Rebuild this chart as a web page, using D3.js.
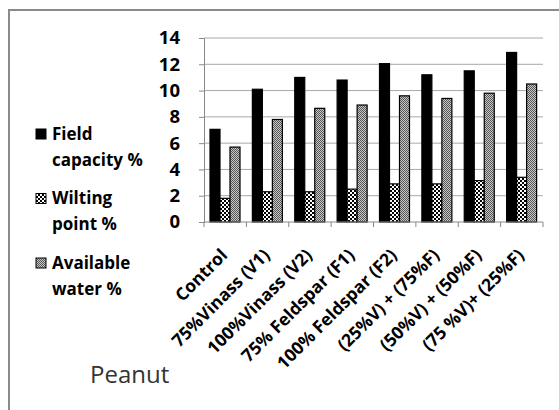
<!DOCTYPE html>
<html>
<head>
<meta charset="utf-8">
<script src="https://cdn.jsdelivr.net/npm/d3@7"></script>
<style>
  body { margin: 0; background: #fff; }
  text { font-family: "Open Sans", "Noto Sans", sans-serif; }
</style>
</head>
<body>
<div id="chart"></div>
<script>
  var categories = ["Control", "75%Vinass (V1)", "100%Vinass (V2)", "75% Feldspar (F1)",
    "100% Feldspar (F2)", "(25%V) + (75%F)", "(50%V) + (50%F)", "(75 %V)+ (25%F)"];
  var seriesNames = ["Field capacity %", "Wilting point %", "Available water %"];
  var fieldCapacity = [7.05, 10.1, 11.0, 10.8, 12.05, 11.2, 11.5, 12.9];
  var wiltingPoint = [1.8, 2.3, 2.3, 2.5, 2.9, 2.9, 3.15, 3.4];
  var availableWater = [5.7, 7.8, 8.65, 8.9, 9.6, 9.4, 9.8, 10.5];
  var yTicks = [0, 2, 4, 6, 8, 10, 12, 14];

  var width = 559, height = 410;
  var x0 = 204, x1 = 543, yTop = 38, yBottom = 222;

  var svg = d3.select("#chart").append("svg")
      .attr("width", width)
      .attr("height", height);

  var defs = svg.append("defs");
  // checkerboard for wilting point
  var p1 = defs.append("pattern").attr("id", "checker")
      .attr("patternUnits", "userSpaceOnUse").attr("width", 4).attr("height", 4);
  p1.append("rect").attr("width", 4).attr("height", 4).attr("fill", "#fff");
  p1.append("rect").attr("width", 2).attr("height", 2).attr("fill", "#000");
  p1.append("rect").attr("x", 2).attr("y", 2).attr("width", 2).attr("height", 2).attr("fill", "#000");
  // fine grey dots for available water
  var p2 = defs.append("pattern").attr("id", "dots")
      .attr("patternUnits", "userSpaceOnUse").attr("width", 2).attr("height", 2);
  p2.append("rect").attr("width", 2).attr("height", 2).attr("fill", "#c8c8c8");
  p2.append("rect").attr("width", 1).attr("height", 1).attr("fill", "#555");
  p2.append("rect").attr("x", 1).attr("y", 1).attr("width", 1).attr("height", 1).attr("fill", "#555");

  var fills = ["#000", "url(#checker)", "url(#dots)"];

  // outer frame (left and top only visible)
  svg.append("path")
      .attr("d", "M9," + height + " V10 H" + width)
      .attr("fill", "none").attr("stroke", "#8a8a8a").attr("stroke-width", 2);

  var x = d3.scaleBand().domain(categories).range([x0, x1]);
  var xs = d3.scaleBand().domain(seriesNames).range([6, 36]);
  var y = d3.scaleLinear().domain([0, 14]).range([yBottom, yTop]);

  // gridlines
  svg.append("g").selectAll("line").data(yTicks.slice(1)).enter().append("line")
      .attr("x1", x0).attr("x2", x1)
      .attr("y1", function(d) { return y(d); }).attr("y2", function(d) { return y(d); })
      .attr("stroke", "#a8a8a8").attr("stroke-width", 1);

  // y axis
  var yAxis = svg.append("g").attr("transform", "translate(" + x0 + ",0)")
      .call(d3.axisLeft(y).tickValues(yTicks).tickSize(5).tickPadding(19));
  yAxis.select(".domain").attr("stroke", "#888");
  yAxis.selectAll(".tick line").attr("stroke", "#888");
  yAxis.selectAll("text").attr("font-size", 18.5).attr("font-weight", "bold").attr("fill", "#000")
      .style("font-family", "'Open Sans', sans-serif");

  var data = [fieldCapacity, wiltingPoint, availableWater];

  // bars
  categories.forEach(function(c, i) {
    seriesNames.forEach(function(s, j) {
      var v = data[j][i];
      svg.append("rect")
        .attr("x", x(c) + xs(s))
        .attr("y", y(v))
        .attr("width", xs.bandwidth())
        .attr("height", y(0) - y(v))
        .attr("fill", fills[j])
        .attr("stroke", "#000")
        .attr("stroke-width", 1.2);
    });
  });

  // x axis
  svg.append("line").attr("x1", x0).attr("x2", x1).attr("y1", yBottom).attr("y2", yBottom)
      .attr("stroke", "#888");
  svg.append("g").selectAll("line").data(d3.range(categories.length + 1)).enter().append("line")
      .attr("x1", function(d) { return x0 + d * x.step(); })
      .attr("x2", function(d) { return x0 + d * x.step(); })
      .attr("y1", yBottom).attr("y2", yBottom + 5)
      .attr("stroke", "#888");

  svg.append("g").selectAll("text").data(categories).enter().append("text")
      .attr("transform", function(d) {
        return "translate(" + (x(d) + x.bandwidth() / 2 - 1) + "," + (yBottom + 30) + ") rotate(-45)";
      })
      .attr("text-anchor", "end")
      .attr("font-size", 17.5).attr("font-weight", "bold")
      .attr("dy", "0.35em")
      .text(function(d) { return d; });

  // legend
  var legendLines = [["Field", "capacity %"], ["Wilting", "point %"], ["Available", "water %"]];
  var lg = svg.append("g");
  legendLines.forEach(function(lines, j) {
    var top = 134 + j * 64.5;
    lg.append("rect").attr("x", 36).attr("y", top - 5).attr("width", 10).attr("height", 10)
      .attr("fill", fills[j]).attr("stroke", "#000").attr("stroke-width", 1);
    lines.forEach(function(t, k) {
      lg.append("text").attr("x", 52).attr("y", top + k * 26)
        .attr("dy", "0.35em")
        .attr("font-size", 17).attr("font-weight", "bold")
        .text(t);
    });
  });

  // title
  svg.append("text").attr("x", 90).attr("y", 383)
      .attr("font-size", 24).attr("fill", "#333")
      .text("Peanut");
</script>
</body>
</html>
